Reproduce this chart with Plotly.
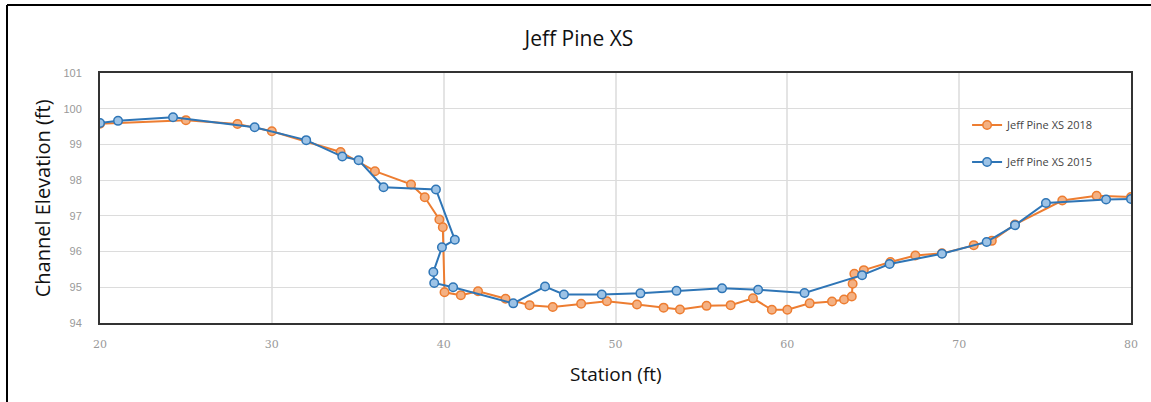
import plotly.graph_objects as go

# Data
station_2018 = [20.0, 25.0, 28.0, 30.0, 34.0, 36.0, 38.1, 38.9, 39.75, 39.95, 40.05, 41.0, 42.0, 43.6,
                45.0, 46.35, 48.0, 49.5, 51.25, 52.8, 53.75, 55.3, 56.7, 58.0, 59.1, 60.0, 61.3,
                62.6, 63.3, 63.75, 63.8, 63.9, 64.45, 66.0, 67.45, 69.0, 70.85, 71.9, 73.25,
                76.0, 78.0, 80.0]
elev_2018 = [99.58, 99.68, 99.57, 99.37, 98.79, 98.25, 97.88, 97.52, 96.9, 96.68, 94.86, 94.78, 94.89,
             94.68, 94.5, 94.45, 94.54, 94.61, 94.52, 94.43, 94.38, 94.48, 94.5, 94.69, 94.37,
             94.37, 94.55, 94.6, 94.66, 94.74, 95.1, 95.38, 95.48, 95.71, 95.89, 95.95, 96.18,
             96.3, 96.76, 97.43, 97.56, 97.53]

station_2015 = [20.0, 21.05, 24.25, 29.0, 32.0, 34.1, 35.05, 36.5, 39.55, 40.65, 39.9, 39.4, 39.45,
                40.55, 44.05, 45.9, 47.0, 49.2, 51.45, 53.55, 56.2, 58.3, 61.0, 64.35, 65.95,
                69.0, 71.6, 73.25, 75.05, 78.55, 80.0]
elev_2015 = [99.6, 99.66, 99.76, 99.48, 99.12, 98.66, 98.56, 97.8, 97.74, 96.33, 96.12, 95.43, 95.12,
             95.0, 94.55, 95.02, 94.8, 94.8, 94.83, 94.9, 94.97, 94.93, 94.84, 95.34, 95.65,
             95.94, 96.27, 96.74, 97.36, 97.46, 97.47]

series_names = ["Jeff Pine XS 2018", "Jeff Pine XS 2015"]
x_ticks = [20, 30, 40, 50, 60, 70, 80]
y_ticks = [94, 95, 96, 97, 98, 99, 100, 101]

ORANGE = "#ED7D31"
ORANGE_FILL = "#F4B183"
BLUE = "#2E75B6"
BLUE_FILL = "#9DC3E6"

fig = go.Figure()
fig.add_trace(go.Scatter(
    x=station_2018, y=elev_2018, name=series_names[0], mode="lines+markers",
    legendgroup="a",
    line=dict(color=ORANGE, width=2),
    marker=dict(size=8.5, color=ORANGE_FILL, line=dict(color=ORANGE, width=1.5)),
))
fig.add_trace(go.Scatter(
    x=station_2015, y=elev_2015, name=series_names[1], mode="lines+markers",
    legendgroup="b",
    line=dict(color=BLUE, width=2),
    marker=dict(size=8.5, color=BLUE_FILL, line=dict(color=BLUE, width=1.5)),
))

fig.update_layout(
    width=1151, height=402,
    margin=dict(l=100, r=20, t=73, b=79),
    paper_bgcolor="white", plot_bgcolor="white",
    font=dict(family="Open Sans, Liberation Sans, sans-serif", color="#222"),
    title=dict(text="Jeff Pine XS", x=0.503, xanchor="center", y=0.905, yanchor="middle",
               font=dict(size=21, color="#111", family="Open Sans, sans-serif")),
    showlegend=True,
    legend=dict(x=0.841, y=0.85, xanchor="left", yanchor="top",
                bgcolor="rgba(255,255,255,0)", borderwidth=0,
                font=dict(size=11, color="#444"),
                tracegroupgap=18, traceorder="grouped"),
    xaxis=dict(range=[20, 80], tickvals=x_ticks, ticktext=[str(v) for v in x_ticks],
               showgrid=True, gridcolor="#e4e4e4", gridwidth=2,
               showline=True, linecolor="#333", linewidth=2, mirror=True,
               ticks="", ticklabelstandoff=10,
               tickfont=dict(size=11, color="#999", family="DejaVu Serif, serif"),
               zeroline=False),
    yaxis=dict(range=[94, 101], tickvals=y_ticks, ticktext=[str(v) for v in y_ticks],
               showgrid=True, gridcolor="#dcdcdc", gridwidth=1,
               showline=True, linecolor="#333", linewidth=2, mirror=True,
               ticks="", ticklabelstandoff=14,
               tickfont=dict(size=11, color="#999", family="Liberation Sans, sans-serif"),
               zeroline=False),
    annotations=[
        dict(text="Channel Elevation (ft)", xref="paper", yref="paper",
             x=-0.056, y=0.5, xanchor="center", yanchor="middle", textangle=-90,
             showarrow=False, font=dict(size=20, color="#111")),
        dict(text="Station (ft)", xref="paper", yref="paper",
             x=0.5, y=-0.205, xanchor="center", yanchor="middle",
             showarrow=False, font=dict(size=19, color="#111")),
    ],
    shapes=[
        dict(type="line", xref="paper", yref="paper", x0=-0.0902, x1=-0.0902, y0=-0.35, y1=1.272,
             line=dict(color="#000", width=2)),
    ],
)

# top border of the screenshot frame
fig.add_shape(type="line", xref="paper", yref="paper", x0=-0.0902, x1=1.02, y0=1.272, y1=1.272,
              line=dict(color="#000", width=2))

fig.write_html("out.html", config={"displayModeBar": False},
               post_script="document.body.style.margin='0';")
